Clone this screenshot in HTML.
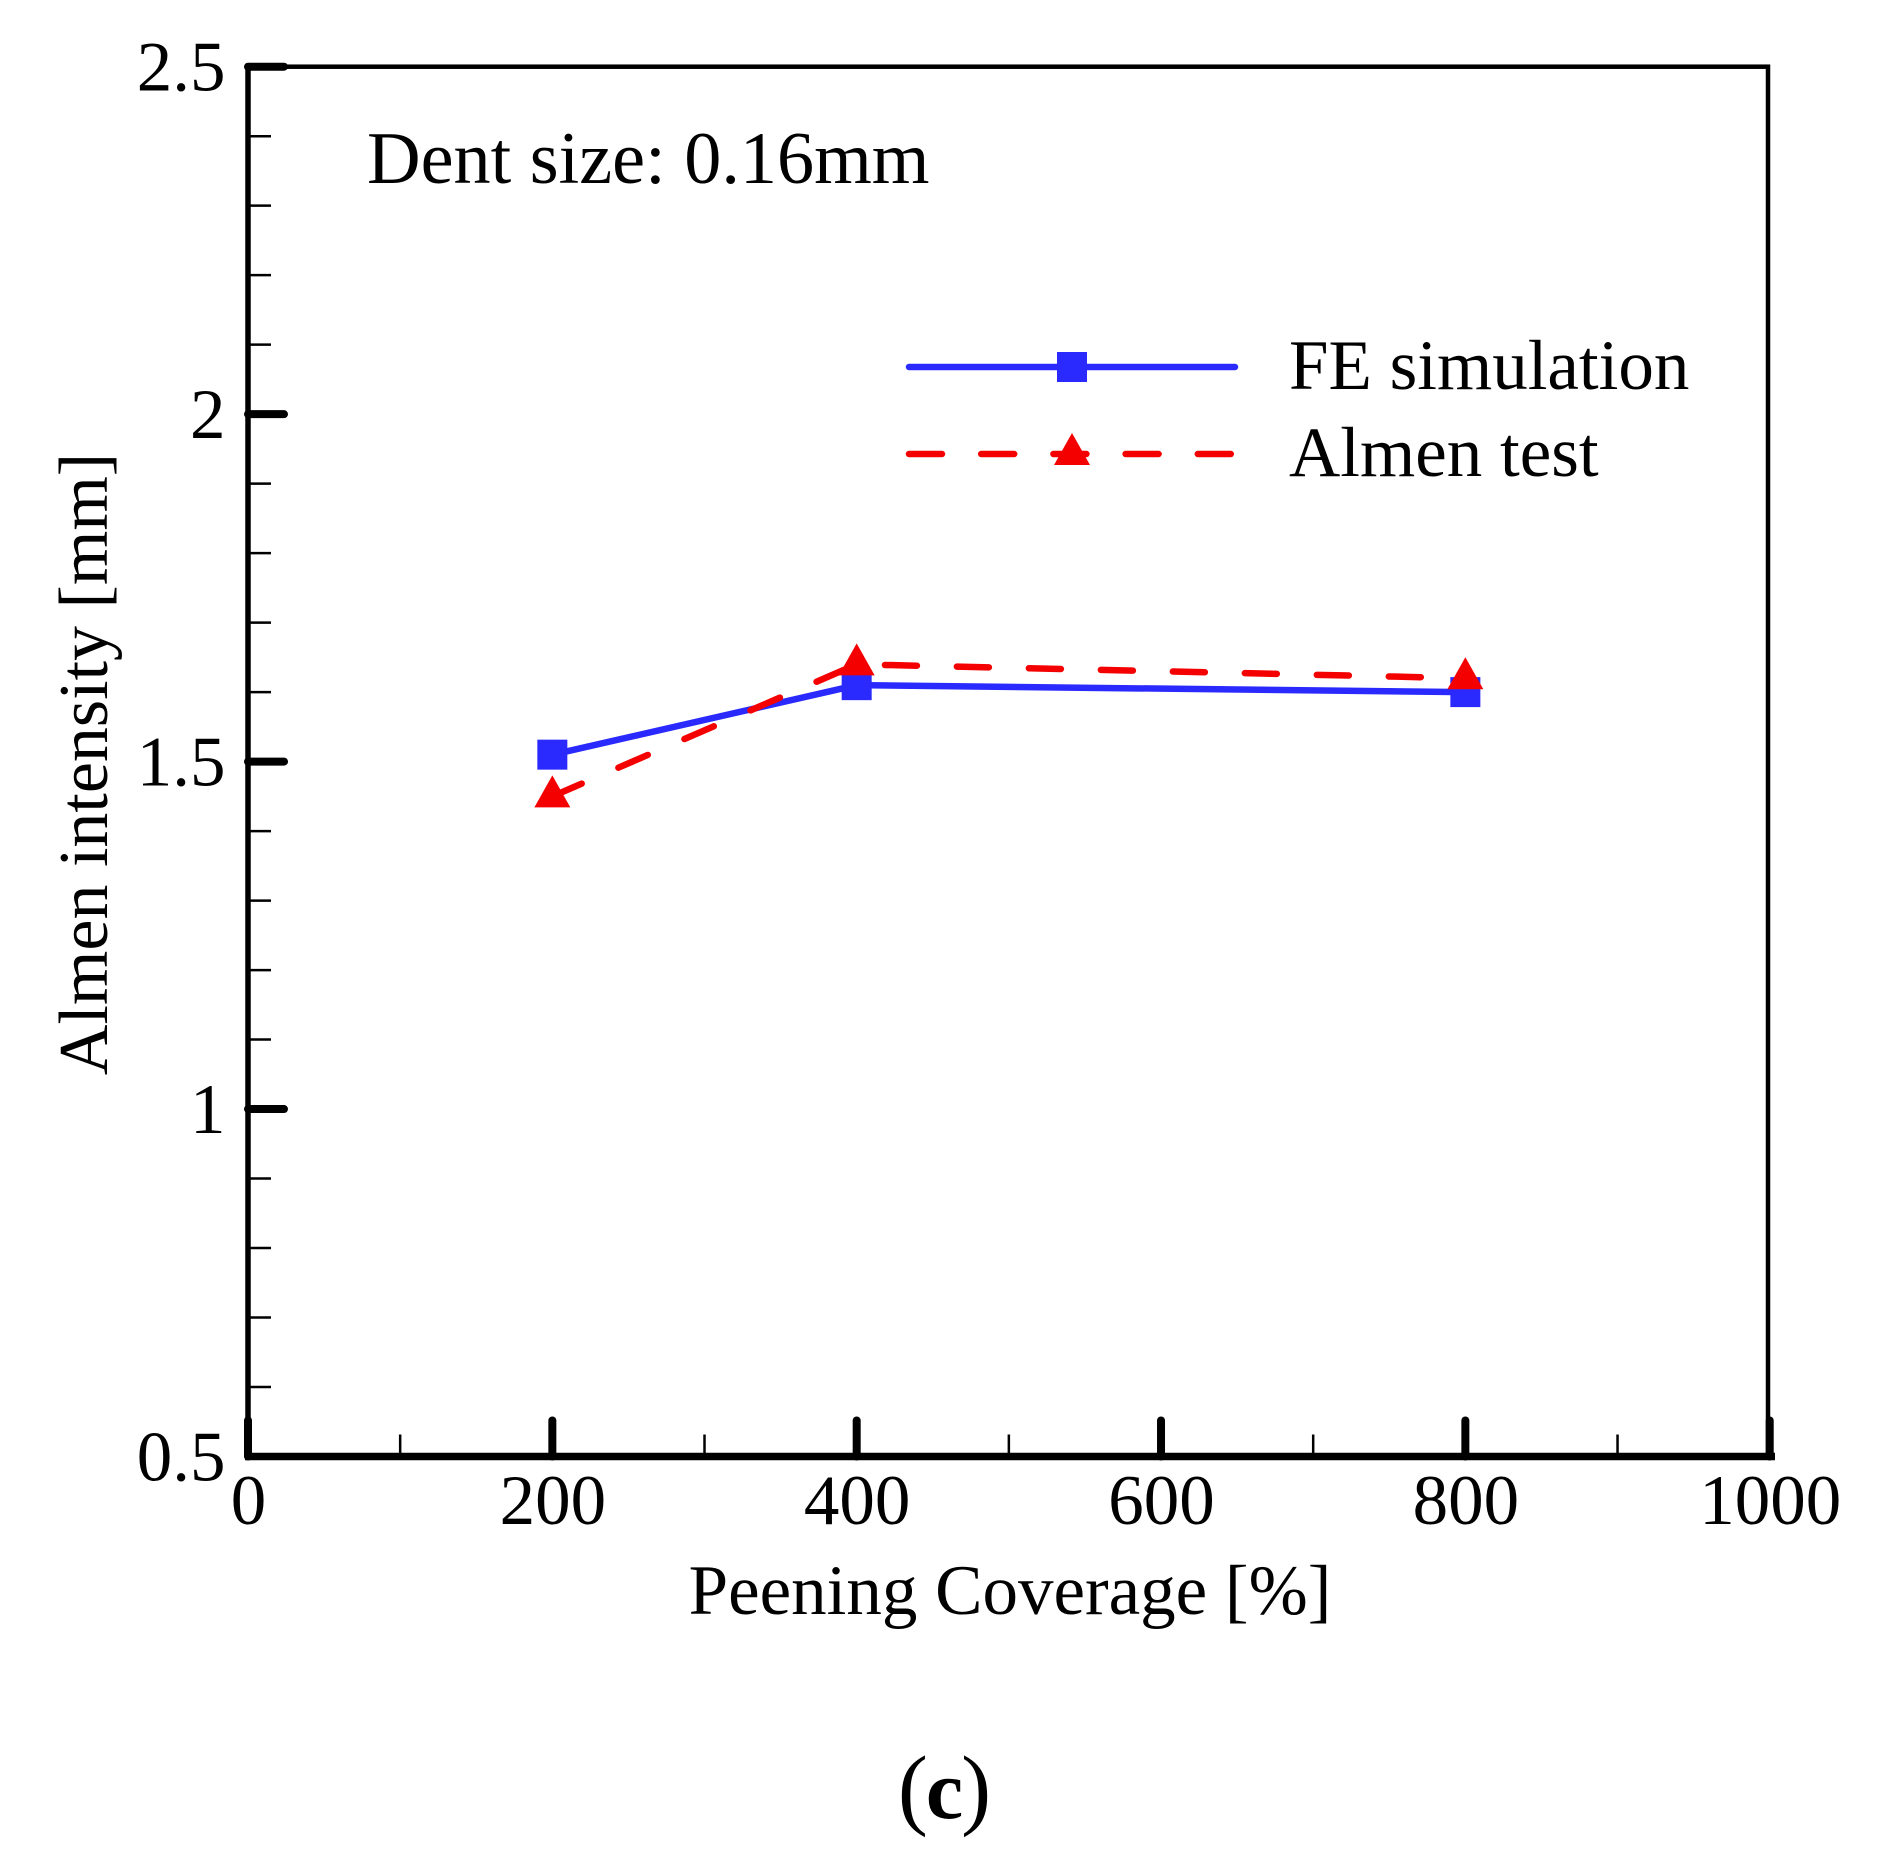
<!DOCTYPE html>
<html lang="en">
<head>
<meta charset="utf-8">
<title>Almen intensity vs peening coverage</title>
<style>
html,body{margin:0;padding:0;background:#fff;}
svg{display:block;}
text{font-family:"Liberation Serif",serif;fill:#000;}
</style>
</head>
<body>
<svg id="chart" xmlns="http://www.w3.org/2000/svg" width="1879" height="1875" viewBox="0 0 1879 1875">
<rect x="0" y="0" width="1879" height="1875" fill="#fff"/>
<g id="axes"></g>
<g id="series"></g>
<text x="367" y="183" font-size="74.2">Dent size: 0.16mm</text>
<g>
<g>
<line x1="909" y1="367" x2="1235" y2="367" stroke="#2a2aff" stroke-width="6.5" stroke-linecap="round"/>
<rect x="1057" y="352" width="30" height="30" fill="#2a2aff"/>
<text x="1289" y="389" font-size="71">FE simulation</text>
</g>
<g>
<line x1="909" y1="454" x2="1231" y2="454" stroke="#f50000" stroke-width="6.5" stroke-linecap="round" stroke-dasharray="33 39.2"/>
<polygon points="1072,433 1090,465 1054,465" fill="#f50000"/>
<text x="1289" y="476" font-size="71">Almen test</text>
</g>
</g>
<text x="1010" y="1614" font-size="71" text-anchor="middle">Peening Coverage [%]</text>
<text transform="translate(107 764) rotate(-90)" font-size="70" text-anchor="middle">Almen intensity [mm]</text>
<text x="943.5" y="1818" font-size="90" text-anchor="middle" letter-spacing="-2">(<tspan font-size="84" font-weight="bold">c</tspan>)</text>
</svg>
<script>
var coverageValues = [200, 400, 800];
var feSimulationValues = [1.51, 1.61, 1.6];
var almenTestValues = [1.45, 1.64, 1.62];
var xMajorTicks = [0, 200, 400, 600, 800, 1000];
var xMinorTicks = [100, 300, 500, 700, 900];
var yMajorTicks = [0.5, 1, 1.5, 2, 2.5];
var yMinorTicks = [0.6, 0.7, 0.8, 0.9, 1.1, 1.2, 1.3, 1.4, 1.6, 1.7, 1.8, 1.9, 2.1, 2.2, 2.3, 2.4];

var NS = 'http://www.w3.org/2000/svg';
var plotLeft = 248, plotRight = 1769.7, plotTop = 66.7, plotBottom = 1456.5;
var xMin = 0, xMax = 1000, yMin = 0.5, yMax = 2.5;
function xScale(v) { return plotLeft + (v - xMin) / (xMax - xMin) * (plotRight - plotLeft); }
function yScale(v) { return plotBottom - (v - yMin) / (yMax - yMin) * (plotBottom - plotTop); }
function make(tag, attrs, parent) {
  var el = document.createElementNS(NS, tag);
  for (var k in attrs) { el.setAttribute(k, attrs[k]); }
  parent.appendChild(el);
  return el;
}
var axes = document.getElementById('axes');
var series = document.getElementById('series');

var frame = make('rect', {x: plotLeft, y: plotTop, width: plotRight - plotLeft - 1.7, height: plotBottom - plotTop, fill: 'none', stroke: '#000', 'stroke-width': 4.5}, axes);



var leftAxis = make('line', {x1: plotLeft, y1: plotTop, x2: plotLeft, y2: plotBottom, stroke: '#000', 'stroke-width': 5.5}, axes);



var bottomAxis = make('line', {x1: 245, y1: plotBottom, x2: 1775, y2: plotBottom, stroke: '#000', 'stroke-width': 7.5}, axes);



xMajorTicks.forEach(function (v) {
  var px = xScale(v);
  var t = make('line', {x1: px, y1: plotBottom, x2: px, y2: plotBottom - 36, stroke: '#000', 'stroke-width': 8, 'stroke-linecap': 'round'}, axes);
  
  
  var l = make('text', {x: px + 0.5, y: 1524, 'font-size': 71, 'text-anchor': 'middle'}, axes);
  l.textContent = String(v);
  
  
});
xMinorTicks.forEach(function (v) {
  var px = xScale(v);
  var t = make('line', {x1: px, y1: plotBottom, x2: px, y2: plotBottom - 22, stroke: '#000', 'stroke-width': 2.5}, axes);
  
  
});
yMajorTicks.forEach(function (v) {
  var py = yScale(v);
  if (v !== yMin) {
    var t = make('line', {x1: plotLeft, y1: py, x2: plotLeft + 36, y2: py, stroke: '#000', 'stroke-width': 8, 'stroke-linecap': 'round'}, axes);
    
    
  }
  var l = make('text', {x: 225.5, y: py + 24, 'font-size': 71, 'text-anchor': 'end'}, axes);
  l.textContent = String(v);
  
  
});
yMinorTicks.forEach(function (v) {
  var py = yScale(v);
  var t = make('line', {x1: plotLeft, y1: py, x2: plotLeft + 23, y2: py, stroke: '#000', 'stroke-width': 2.5}, axes);
  
  
});

function linePoints(values) {
  return values.map(function (v, i) { return xScale(coverageValues[i]) + ',' + yScale(v); }).join(' ');
}
var feLine = make('polyline', {points: linePoints(feSimulationValues), fill: 'none', stroke: '#2a2aff', 'stroke-width': 6.5}, series);


feSimulationValues.forEach(function (v, i) {
  var m = make('rect', {x: xScale(coverageValues[i]) - 15, y: yScale(v) - 15, width: 30, height: 30, fill: '#2a2aff'}, series);
  
  
});
var almenLine = make('polyline', {points: linePoints(almenTestValues), fill: 'none', stroke: '#f50000', 'stroke-width': 6.5, 'stroke-linecap': 'round', 'stroke-dasharray': '32 40'}, series);


almenTestValues.forEach(function (v, i) {
  var cx = xScale(coverageValues[i]), cy = yScale(v);
  var m = make('polygon', {points: cx + ',' + (cy - 21) + ' ' + (cx + 18) + ',' + (cy + 11) + ' ' + (cx - 18) + ',' + (cy + 11), fill: '#f50000'}, series);
  
  
});
</script>
</body>
</html>
